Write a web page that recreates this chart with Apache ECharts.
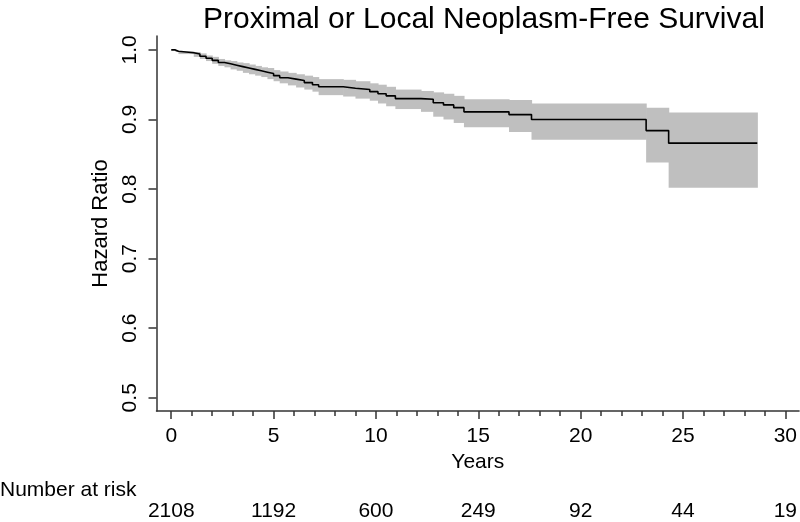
<!DOCTYPE html>
<html><head><meta charset="utf-8">
<script src="https://cdn.jsdelivr.net/npm/echarts@6/dist/echarts.min.js"></script>
<style>html,body{margin:0;padding:0;background:#fff}#c{width:800px;height:522px}</style>
</head><body><div id="c"></div>
<script>
// Kaplan-Meier step estimates (years, survival, lower CI, upper CI)
const times = [0, 0.2, 0.35, 1.1, 1.4, 1.7, 2.0, 2.3, 2.6, 2.9, 3.2, 3.5, 3.8, 4.1, 4.4, 4.7, 5.0, 5.3, 5.7, 6.1, 6.5, 6.9, 7.2, 8.4, 9.0, 9.7, 10.1, 10.5, 10.95, 12.2, 12.8, 13.3, 13.8, 14.3, 16.5, 17.6, 23.2, 24.3, 28.63];
const surv  = [1.000, 0.998, 0.996, 0.994, 0.991, 0.988, 0.985, 0.982, 0.980, 0.978, 0.976, 0.974, 0.972, 0.970, 0.968, 0.966, 0.963, 0.960, 0.958, 0.956, 0.953, 0.950, 0.947, 0.945, 0.943, 0.940, 0.937, 0.934, 0.930, 0.929, 0.924, 0.921, 0.917, 0.911, 0.907, 0.900, 0.884, 0.866, 0.866];
const lower = [1.000, 0.997, 0.994, 0.990, 0.987, 0.984, 0.980, 0.977, 0.975, 0.972, 0.970, 0.967, 0.965, 0.963, 0.961, 0.958, 0.955, 0.952, 0.949, 0.946, 0.943, 0.940, 0.935, 0.933, 0.930, 0.927, 0.923, 0.919, 0.915, 0.911, 0.904, 0.900, 0.895, 0.889, 0.882, 0.871, 0.838, 0.802, 0.802];
const upper = [1.000, 0.999, 0.998, 0.997, 0.995, 0.992, 0.990, 0.987, 0.985, 0.984, 0.982, 0.981, 0.979, 0.977, 0.975, 0.974, 0.971, 0.969, 0.967, 0.965, 0.963, 0.961, 0.958, 0.957, 0.955, 0.952, 0.950, 0.947, 0.943, 0.941, 0.939, 0.937, 0.934, 0.929, 0.928, 0.923, 0.917, 0.910, 0.910];
const xTicks = [0, 5, 10, 15, 20, 25, 30];
const xMinorTicks = [0,1,2,3,4,5,6,7,8,9,10,11,12,13,14,15,16,17,18,19,20,21,22,23,24,25,26,27,28,29,30];
const yTicks = [0.5, 0.6, 0.7, 0.8, 0.9, 1.0];
const riskTimes = [0, 5, 10, 15, 20, 25, 30];
const nRisk = [2108, 1192, 600, 249, 92, 44, 19];

const FONT = 'Liberation Sans, Arial, Helvetica, sans-serif';
const chart = echarts.init(document.getElementById('c'), null, {renderer: 'canvas'});

// band segments: [t start, t end, lower, upper]
const bandData = [];
for (let i = 0; i < times.length - 1; i++) {
  bandData.push([times[i], times[i + 1], lower[i], upper[i]]);
}
const survData = times.map((t, i) => [t, surv[i]]);

const axisCol = '#333';
const xBase = {type: 'value', min: -0.72, max: 30.67, gridIndex: 0, splitLine: {show: false}};

chart.setOption({
  animation: false,
  backgroundColor: '#fff',
  title: {
    text: 'Proximal or Local Neoplasm-Free Survival',
    left: 198, top: 0,
    textStyle: {fontFamily: FONT, fontSize: 30, fontWeight: 'normal', color: '#000'}
  },
  graphic: [{
    type: 'text', left: 0, top: 480,
    style: {text: 'Number at risk', font: '21px ' + FONT, fill: '#000'}
  }],
  grid: {left: 156.5, right: 0, top: 36, bottom: 106, containLabel: false},
  xAxis: [
    Object.assign({}, xBase, {
      position: 'bottom',
      name: 'Years', nameLocation: 'middle', nameGap: 38,
      nameTextStyle: {fontFamily: FONT, fontSize: 21, color: '#000'},
      axisLine: {show: true, onZero: false, lineStyle: {color: axisCol, width: 1.5}},
      axisTick: {show: true, customValues: xTicks, length: 8, lineStyle: {color: axisCol, width: 1.5}},
      axisLabel: {customValues: xTicks, margin: 15, fontFamily: FONT, fontSize: 21, color: '#000'}
    }),
    Object.assign({}, xBase, {
      position: 'bottom',
      axisLine: {show: false, onZero: false},
      axisTick: {show: true, customValues: xMinorTicks, length: 5, lineStyle: {color: axisCol, width: 1.5}},
      axisLabel: {show: false}
    }),
    Object.assign({}, xBase, {
      position: 'bottom', offset: 90,
      axisLine: {show: false, onZero: false},
      axisTick: {show: false},
      axisLabel: {
        customValues: riskTimes, margin: 0, fontFamily: FONT, fontSize: 21, color: '#000',
        formatter: v => { const i = riskTimes.indexOf(v); return i >= 0 ? String(nRisk[i]) : ''; }
      }
    })
  ],
  yAxis: {
    type: 'value', min: 0.481, max: 1.02,
    name: 'Hazard Ratio', nameLocation: 'middle', nameGap: 36, nameRotate: 90,
    nameTextStyle: {fontFamily: FONT, fontSize: 22, color: '#000'},
    splitLine: {show: false},
    axisLine: {show: true, onZero: false, lineStyle: {color: axisCol, width: 1.5}},
    axisTick: {show: true, customValues: yTicks, length: 8, lineStyle: {color: axisCol, width: 1.5}},
    axisLabel: {customValues: yTicks, rotate: 90, margin: 16, fontFamily: FONT, fontSize: 21, color: '#000',
      formatter: v => v.toFixed(1)}
  },
  series: [
    {
      type: 'custom', xAxisIndex: 0, data: bandData, silent: true, z: 1,
      encode: {x: [0, 1], y: [2, 3]},
      renderItem: (params, api) => {
        const p0 = api.coord([api.value(0), api.value(3)]);
        const p1 = api.coord([api.value(1), api.value(2)]);
        return {
          type: 'rect',
          shape: {x: p0[0], y: p0[1], width: p1[0] - p0[0] + 0.6, height: p1[1] - p0[1]},
          style: {fill: '#bfbfbf'}
        };
      }
    },
    {type: 'line', xAxisIndex: 0, step: 'end', data: survData, symbol: 'none',
     lineStyle: {color: '#000', width: 1.6}, z: 3}
  ]
});
</script>
</body></html>
